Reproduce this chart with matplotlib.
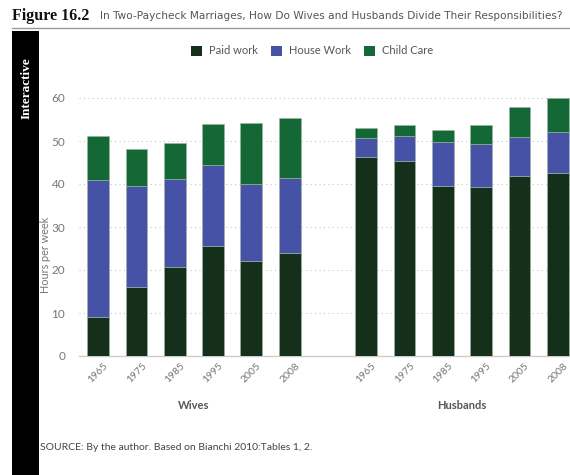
import matplotlib
matplotlib.use("Agg")
import matplotlib.pyplot as plt
from matplotlib.patches import Rectangle, Patch
import numpy as np

plt.rcParams['font.family'] = ['Lato', 'DejaVu Sans']

years = ["1965", "1975", "1985", "1995", "2005", "2008"]
groups = ["Wives", "Husbands"]
series = ["Paid work", "House Work", "Child Care"]

wives_paid = [9.1, 16.0, 20.6, 25.5, 22.2, 24.0]
wives_house = [31.8, 23.5, 20.6, 18.9, 17.9, 17.3]
wives_child = [10.3, 8.7, 8.3, 9.6, 14.2, 14.0]

husbands_paid = [46.2, 45.3, 39.5, 39.3, 41.9, 42.6]
husbands_house = [4.5, 5.9, 10.3, 10.1, 9.1, 9.6]
husbands_child = [2.3, 2.6, 2.7, 4.4, 6.9, 7.7]

colors = ["#14301a", "#4552a5", "#136835"]

fig = plt.figure(figsize=(5.7, 4.75), dpi=100)
fig.patch.set_facecolor("white")

ax = fig.add_axes([79/570, (475-356)/475, 1 - 79/570, (356-89.4)/475])

pos_w = np.arange(6)
pos_h = np.arange(6) + 7
width = 0.57

for pos, paid, house, child in [(pos_w, wives_paid, wives_house, wives_child),
                                (pos_h, husbands_paid, husbands_house, husbands_child)]:
    paid = np.array(paid); house = np.array(house); child = np.array(child)
    ax.bar(pos, paid, width, color=colors[0], edgecolor="#9fb59f", linewidth=0.4, zorder=3)
    ax.bar(pos, house, width, bottom=paid, color=colors[1], edgecolor="#9fb59f", linewidth=0.4, zorder=3)
    ax.bar(pos, child, width, bottom=paid + house, color=colors[2], edgecolor="#9fb59f", linewidth=0.4, zorder=3)

ax.set_xlim(-0.5, 12.32)
ax.set_ylim(0, 62)
ax.set_yticks(range(0, 61, 10))
ax.yaxis.grid(True, linestyle=(0, (1, 3)), color="#c8c8c8", linewidth=0.8, zorder=0)
ax.tick_params(axis="y", length=0, labelsize=8.5, labelcolor="#777777", pad=10)
for s in ["top", "right", "left"]:
    ax.spines[s].set_visible(False)
ax.spines["bottom"].set_color("#cccccc")
ax.spines["bottom"].set_linewidth(1.0)

ax.set_xticks(list(pos_w) + list(pos_h))
ax.set_xticklabels(years + years, rotation=45, fontsize=7.5, color="#777777")
ax.tick_params(axis="x", length=0, pad=4)
for lbl in ax.get_xticklabels():
    lbl.set_horizontalalignment("center")

ax.set_ylabel("Hours per week", fontsize=7.8, color="#777777", labelpad=2)
ax.yaxis.set_label_coords(-0.058, 0.38)

ax.text(2.5, -0.1875, groups[0], transform=ax.get_xaxis_transform(), ha="center", va="center",
        fontsize=8, fontweight="bold", color="#555555")
ax.text(9.5, -0.1875, groups[1], transform=ax.get_xaxis_transform(), ha="center", va="center",
        fontsize=8, fontweight="bold", color="#555555")

handles = [Patch(facecolor=c, edgecolor="none") for c in colors]
fig.legend(handles, series, loc="center", bbox_to_anchor=(312/570, 1 - 51/475), ncol=3,
           frameon=False, fontsize=8, labelcolor="#555555", handlelength=1.0, handleheight=1.0,
           columnspacing=1.2, handletextpad=0.6)

# Title area
fig.text(12/570, 1 - 16/475, "Figure 16.2", fontsize=11.5, fontweight="bold", family="Liberation Serif",
         va="center", ha="left", color="#111111")
fig.text(100/570, 1 - 16/475, "In Two-Paycheck Marriages, How Do Wives and Husbands Divide Their Responsibilities?",
         fontsize=7.6, va="center", ha="left", color="#555555", family="DejaVu Sans")
fig.add_artist(plt.Line2D([12/570, 1.0], [1 - 28/475, 1 - 28/475], color="#999999", linewidth=1.0))

# Black side band
fig.add_artist(Rectangle((12/570, 0), 27/570, 1 - 31/475, transform=fig.transFigure,
                         facecolor="black", edgecolor="none"))
fig.text(27/570, 1 - 88/475, "Interactive", rotation=90, fontsize=9.5, fontweight="bold",
         family="Liberation Serif", color="white", ha="center", va="center")

fig.text(40/570, 1 - 447/475, "SOURCE: By the author. Based on Bianchi 2010:Tables 1, 2.",
         fontsize=7.5, color="#444444", ha="left", va="center")

fig.savefig("out.png", dpi=100)
